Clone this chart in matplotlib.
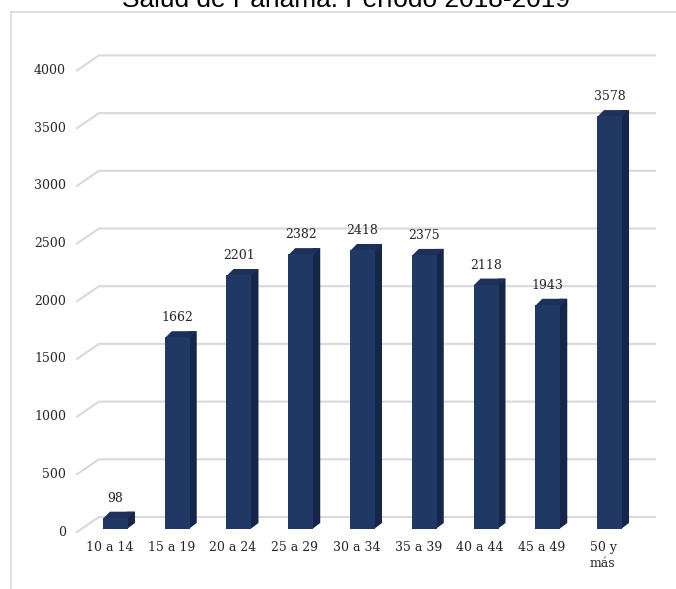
import matplotlib.pyplot as plt
from matplotlib.patches import Polygon, Rectangle
from matplotlib.lines import Line2D

categories = ["10 a 14", "15 a 19", "20 a 24", "25 a 29", "30 a 34",
              "35 a 39", "40 a 44", "45 a 49", "50 y\nmás"]
values = [98, 1662, 2201, 2382, 2418, 2375, 2118, 1943, 3578]
yticks = [0, 500, 1000, 1500, 2000, 2500, 3000, 3500, 4000]
title = "Salud de Panamá. Período 2018-2019"

W, H = 676, 589
fig = plt.figure(figsize=(W / 100, H / 100), dpi=100)
fig.patch.set_facecolor("white")

# axes placed so that category i sits at its pixel column, values on a linear scale
ax = fig.add_axes([84.6 / W, 60 / H, 555.8 / W, 461.6 / H])
ax.set_xlim(-0.5, 8.5)
ax.set_ylim(0, 4000)
ax.axis("off")

px_x = 9.0 / 555.8     # data units per pixel (x)
px_y = 4000 / 461.6    # data units per pixel (y)

grid_col = "#d9d9d9"
serif = "DejaVu Serif"

# 3D-looking gridlines: diagonal on the side wall, then flat along the back
x_front = -0.5 - 7.6 * px_x
x_back = -0.5 + 14.4 * px_x
x_end = -0.5 + 570.4 * px_x
for t in yticks:
    yf = t - 3 * px_y
    yb = t + 12 * px_y
    ax.plot([x_front, x_back, x_end], [yf, yb, yb], color=grid_col, lw=1.5,
            solid_joinstyle="miter", clip_on=False, zorder=1)
    ax.text(x_front - 11 * px_x, yf, str(t), ha="right", va="center",
            fontsize=9, family=serif, color="#262626", clip_on=False)

# bars with a small extrusion (side + top faces)
bw = 25 * px_x
dx = 7 * px_x
dy = 6 * px_y
front_col = "#203864"
side_col = "#16264a"
top_col = "#1c3059"
for i, v in enumerate(values):
    x0 = i - bw / 2
    x1 = i + bw / 2
    xs = x1 - 1 * px_x
    ax.add_patch(Polygon([(xs, 0), (x1 + dx, dy), (x1 + dx, v + dy), (xs, v + dy)],
                         closed=True, fc=side_col, ec="none", zorder=3, clip_on=False))
    ax.add_patch(Polygon([(x0, v - 1 * px_y), (x1, v - 1 * px_y), (x1 + dx, v + dy),
                          (x0 + dx, v + dy)],
                         closed=True, fc=top_col, ec="none", zorder=3, clip_on=False))
    ax.add_patch(Rectangle((x0, 0), bw, v, fc=front_col, ec="none", zorder=4,
                           clip_on=False))
    ax.text(i, v + 19.5 * px_y, str(v), ha="center", va="center", fontsize=9,
            family=serif, color="#262626", clip_on=False)
    ax.text(i - 6 * px_x, -12 * px_y, categories[i], ha="center", va="top",
            multialignment="left", fontsize=9, family=serif, color="#262626",
            linespacing=1.3, clip_on=False)

# chart frame (runs off the right and bottom edges)
fig.add_artist(Line2D([11 / W, 11 / W], [(H - 12) / H, -0.05], color=grid_col,
                      lw=1.2, transform=fig.transFigure))
fig.add_artist(Line2D([11 / W, 1.05], [(H - 12) / H, (H - 12) / H], color=grid_col,
                      lw=1.2, transform=fig.transFigure))

fig.text(345.5 / W, (H - 7) / H, title, ha="center", va="baseline",
         fontsize=18.9, family="Liberation Sans", color="#000000")

fig.savefig("out.png", dpi=100)
